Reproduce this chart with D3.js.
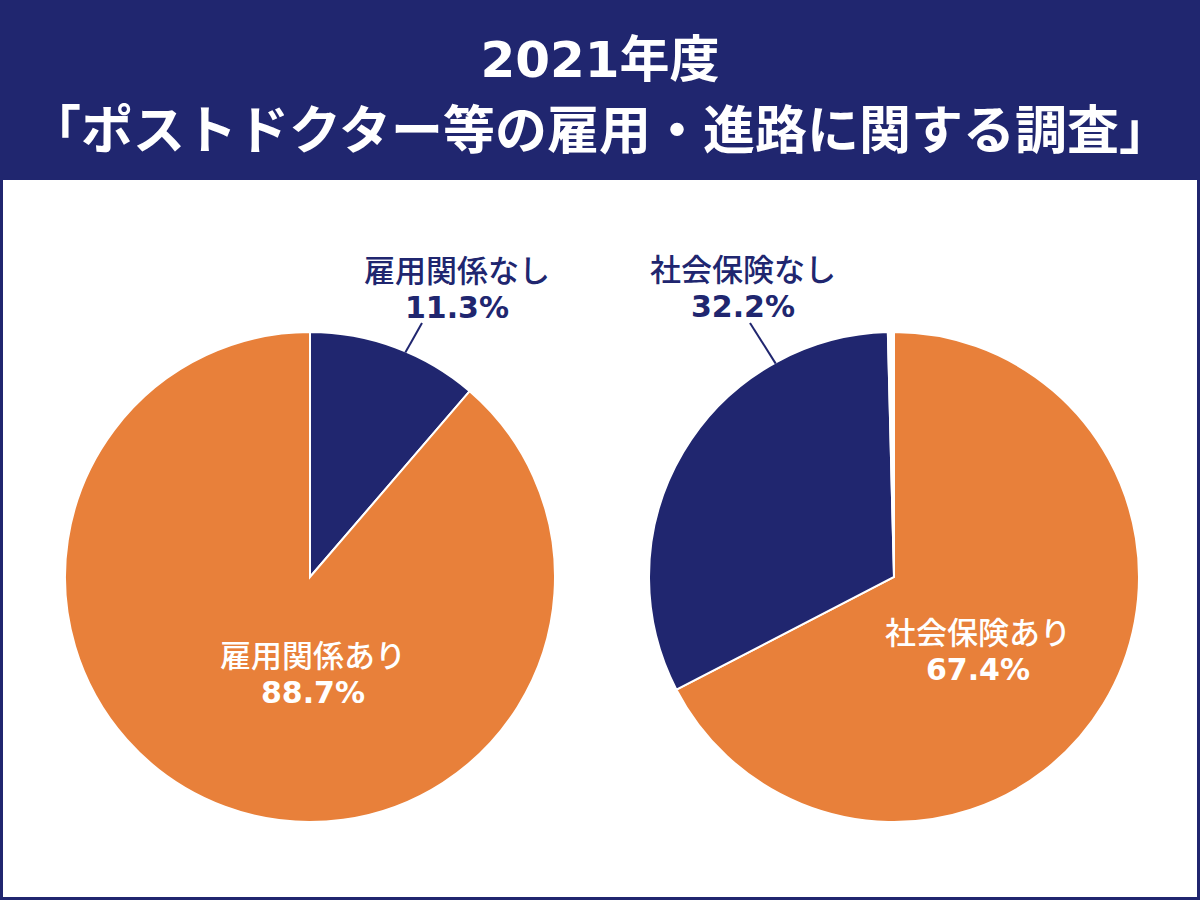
<!DOCTYPE html>
<html>
<head>
<meta charset="utf-8">
<script src="https://cdn.jsdelivr.net/npm/d3@7"></script>
<style>
  body { margin: 0; background: #fff; }
  svg { display: block; }
</style>
</head>
<body>
<svg></svg>
<script>
var width = 1200;
var height = 900;
var navy = "#20266f";
var orange = "#e8803a";

// data
var titleLines = ["2021年度", "「ポストドクター等の雇用・進路に関する調査」"];
var leftLabels = ["雇用関係なし", "雇用関係あり"];
var leftValues = [11.3, 88.7];
var rightLabels = ["社会保険あり", "社会保険なし", ""];
var rightValues = [67.4, 32.2, 0.4];

const svg = d3.select("svg")
    .attr("width", width)
    .attr("height", height);

// frame + header
svg.append("rect")
    .attr("x", 1.5).attr("y", 1.5)
    .attr("width", width - 3).attr("height", height - 3)
    .attr("fill", "#fff")
    .attr("stroke", navy)
    .attr("stroke-width", 3);
svg.append("rect")
    .attr("x", 0).attr("y", 0)
    .attr("width", width).attr("height", 180)
    .attr("fill", navy);

svg.selectAll("text.title")
    .data(titleLines)
    .join("text")
    .attr("class", "title")
    .attr("x", width / 2)
    .attr("y", (d, i) => i === 0 ? 60 : 126)
    .attr("text-anchor", "middle")
    .attr("dominant-baseline", "central")
    .attr("fill", "#fff")
    .attr("font-family", (d, i) => i === 0
        ? "'DejaVu Sans', 'Noto Sans CJK JP', sans-serif"
        : "'Noto Sans CJK JP', sans-serif")
    .attr("font-weight", 700)
    .attr("font-size", (d, i) => i === 0 ? 50 : 52)
    .text(d => d);

var radius = 245;
const pie = d3.pie().sort(null).value(d => d.value);
const arc = d3.arc().innerRadius(0).outerRadius(radius);

function drawPie(cx, cy, labels, values, colors, labelSpec) {
    var data = values.map((v, i) => ({ label: labels[i], value: v }));
    const g = svg.append("g").attr("transform", `translate(${cx},${cy})`);
    g.selectAll("path")
        .data(pie(data))
        .join("path")
        .attr("d", arc)
        .attr("fill", (d, i) => colors[i])
        .attr("stroke", "#fff")
        .attr("stroke-width", 2);

    labelSpec.forEach(s => {
        var d = data[s.index];
        var c = s.outside ? navy : "#fff";
        if (s.outside) {
            var a = s.angle * Math.PI / 180;
            g.append("line")
                .attr("x1", Math.sin(a) * (radius - 1))
                .attr("y1", -Math.cos(a) * (radius - 1))
                .attr("x2", s.lx)
                .attr("y2", s.ly)
                .attr("stroke", navy)
                .attr("stroke-width", 2);
        }
        g.append("text")
            .attr("x", s.x).attr("y", s.y)
            .attr("text-anchor", "middle")
            .attr("dominant-baseline", "central")
            .attr("fill", c)
            .attr("font-family", "'Noto Sans CJK JP', sans-serif")
            .attr("font-weight", 500)
            .attr("font-size", 31)
            .text(d.label);
        g.append("text")
            .attr("x", s.x).attr("y", s.y + 39)
            .attr("text-anchor", "middle")
            .attr("dominant-baseline", "central")
            .attr("fill", c)
            .attr("font-family", "'DejaVu Sans', Verdana, sans-serif")
            .attr("font-weight", 700)
            .attr("font-size", 30)
            .text(d3.format(".1f")(d.value) + "%");
    });
}

drawPie(310, 577, leftLabels, leftValues, [navy, orange], [
    { index: 0, outside: true, angle: 23, lx: 112, ly: -254, x: 147, y: -309 },
    { index: 1, outside: false, x: 3, y: 76 }
]);

drawPie(894, 577, rightLabels, rightValues, [orange, navy, "#fff"], [
    { index: 1, outside: true, angle: -29, lx: -144, ly: -254, x: -151, y: -310 },
    { index: 0, outside: false, x: 84, y: 53 }
]);
</script>
</body>
</html>
